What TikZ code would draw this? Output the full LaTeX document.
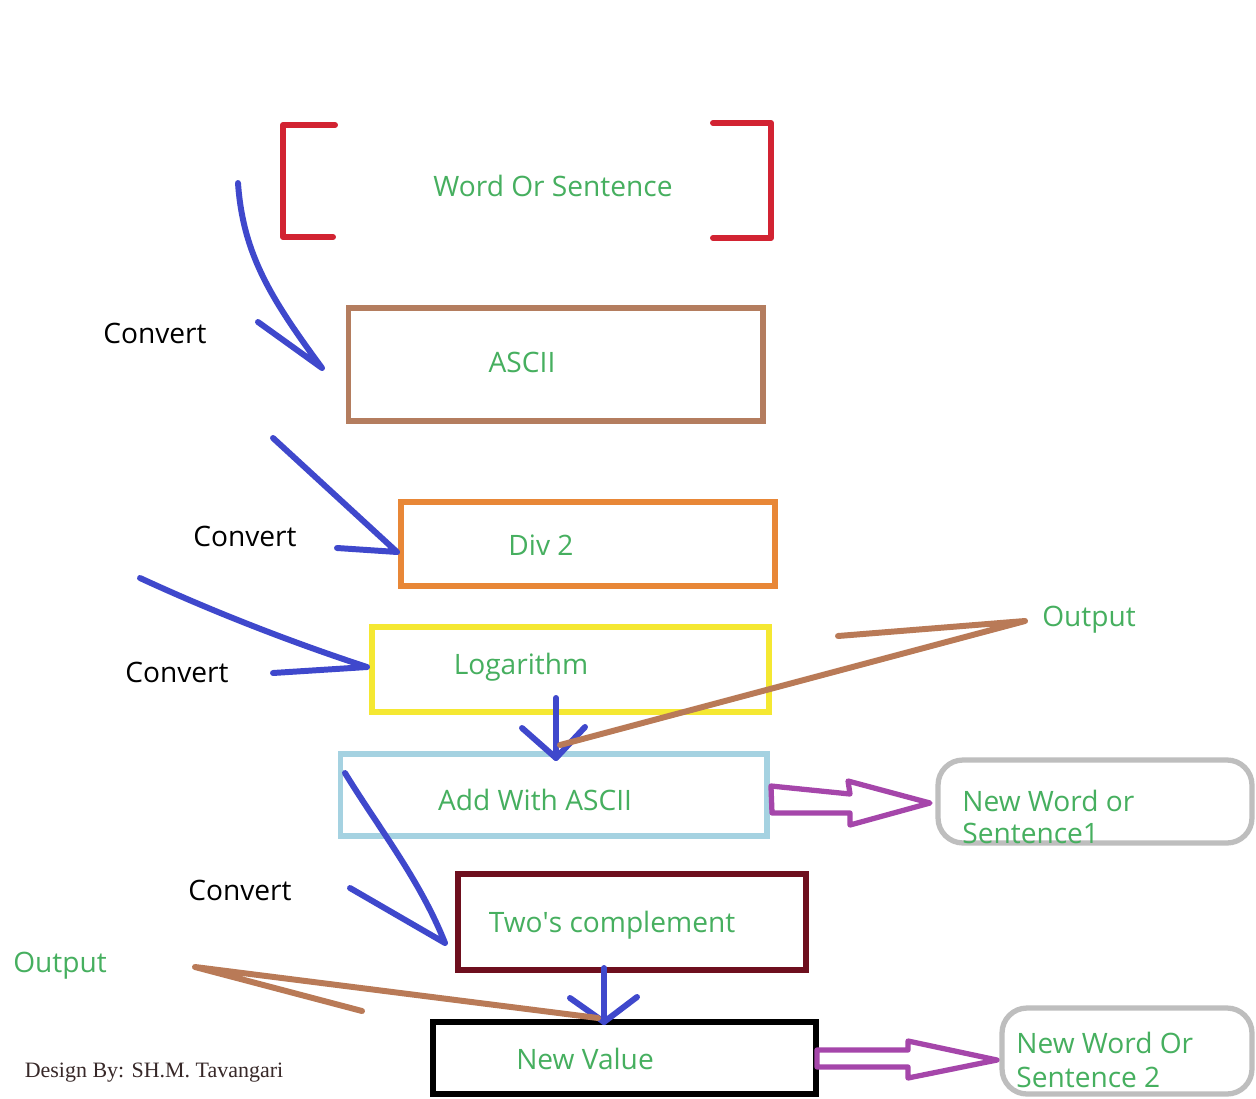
\documentclass[tikz,border=0pt]{standalone}
\usepackage{fontspec}
\setmainfont{Open Sans}
\newfontfamily\sigfont{Liberation Serif}
\definecolor{bracketred}{RGB}{210,35,50}
\definecolor{asciibrown}{RGB}{180,125,95}
\definecolor{divorange}{RGB}{232,135,55}
\definecolor{logyellow}{RGB}{245,232,50}
\definecolor{addblue}{RGB}{165,210,225}
\definecolor{twosred}{RGB}{110,15,30}
\definecolor{txtgreen}{RGB}{70,175,95}
\definecolor{outgray}{RGB}{190,190,190}
\definecolor{arrpurple}{RGB}{165,70,170}
\definecolor{penblue}{RGB}{63,72,204}
\definecolor{penbrown}{RGB}{185,122,87}
\begin{document}
\begin{tikzpicture}[x=0.02cm,y=-0.02cm,
  box/.style={draw, line width=2.9pt, inner sep=0pt, outer sep=0pt},
  outbox/.style={draw=outgray, line width=3pt, rounded corners=0.5cm, inner sep=0pt, outer sep=0pt},
  lbl/.style={text=txtgreen, font=\fontsize{16}{19}\selectfont, inner sep=0pt},
  blk/.style={text=black, font=\fontsize{16}{19}\selectfont, inner sep=0pt},
  pen/.style={draw=penblue, line width=3.4pt, line cap=round, line join=round},
  bpen/.style={draw=penbrown, line width=3.4pt, line cap=round, line join=round},
  hollow/.style={draw=arrpurple, line width=3pt, line join=round},
  brk/.style={draw=bracketred, line width=3.4pt, line cap=round, line join=round}
]
\useasboundingbox[fill=white] (0,0) rectangle (1256,1098);

% Boxes
\node[box, draw=asciibrown, minimum width=8.30cm, minimum height=2.26cm] (ascii) at (555.5,364.5) {};
\node[box, draw=divorange, minimum width=7.48cm, minimum height=1.68cm] (div) at (588,544) {};
\node[box, draw=logyellow, minimum width=7.94cm, minimum height=1.70cm, line width=3.3pt] (log) at (570.5,669.5) {};
\node[box, draw=addblue, minimum width=8.54cm, minimum height=1.64cm] (add) at (553.5,795) {};
\node[box, draw=twosred, minimum width=6.96cm, minimum height=1.92cm] (twos) at (632,922) {};
\node[box, draw=black, minimum width=7.66cm, minimum height=1.44cm, line width=3.3pt] (newval) at (624.5,1058) {};
\node[outbox, minimum width=6.28cm, minimum height=1.66cm] (out1) at (1095,801.5) {};
\node[outbox, minimum width=5.00cm, minimum height=1.72cm] (out2) at (1127,1051) {};

% Brackets
\node[inner sep=0pt, minimum width=9.76cm, minimum height=2.28cm] (wosarea) at (527,181) {};
\draw[brk] (335,125) -- (283,125) -- (283,237) -- (333,237);
\draw[brk] (713,123) -- (771,123) -- (771,238) -- (713,238);

% Texts
\node[lbl] (wos-t) at (553,186) {Word Or Sentence};
\node[lbl] (ascii-t) at (522,362) {ASCII};
\node[lbl] (div-t) at (541,545) {Div 2};
\node[lbl] (log-t) at (521,667) {Logarithm};
\node[lbl] (add-t) at (535,800) {Add With ASCII};
\node[lbl] (twos-t) at (612,925) {Two\textquotesingle s complement};
\node[lbl] (newval-t) at (585,1059) {New Value};
\node[lbl, anchor=west, align=left, font=\fontsize{16}{18.7}\selectfont] (out1-t) at (962,817) {New Word or\\Sentence1};
\node[lbl, anchor=west, align=left, font=\fontsize{16}{19.3}\selectfont] (out2-t) at (1016,1060) {New Word Or\\Sentence 2};
\node[lbl] (outa) at (1089,620) {Output};
\node[lbl] (outb) at (60,966) {Output};
\node[blk] (c1) at (155,333) {Convert};
\node[blk] (c2) at (245,536) {Convert};
\node[blk] (c3) at (177,672) {Convert};
\node[blk] (c4) at (240,890) {Convert};
\node[inner sep=0pt, text={rgb,255:red,55;green,40;blue,40}, font=\sigfont\fontsize{12.5}{15}\selectfont] (sig) at (154,1073) {Design By: SH.M. Tavangari};

% Blue pen arrows
\coordinate (a1s) at (238,183);
\coordinate (a1t) at (322,368);
\coordinate (a1b) at (258,322);
\draw[pen] (a1s) .. controls (243,255) and (272,300) .. (a1t) -- (a1b);

\coordinate (a2s) at (273,438);
\coordinate (a2t) at (397,552);
\coordinate (a2b) at (337,548);
\draw[pen] (a2s) -- (a2t) -- (a2b);

\coordinate (a3s) at (140,578);
\coordinate (a3t) at (367,667);
\coordinate (a3b) at (273,673);
\draw[pen] (a3s) .. controls (220,615) and (300,645) .. (a3t) -- (a3b);

\coordinate (a4s) at (556,698);
\coordinate (a4t) at (556,758);
\draw[pen] (a4s) -- (a4t);
\draw[pen] (522,728) -- (a4t) -- (585,727);

\coordinate (a5s) at (345,773);
\coordinate (a5t) at (445,943);
\coordinate (a5b) at (350,888);
\draw[pen] (a5s) .. controls (380,830) and (420,880) .. (a5t) -- (a5b);

\coordinate (a6s) at (604,968);
\coordinate (a6t) at (604,1022);
\draw[pen] (a6s) -- (a6t);
\draw[pen] (570,998) -- (a6t) -- (637,997);

% Brown output arrows
\coordinate (o1s) at (560,745);
\coordinate (o1t) at (1025,621);
\coordinate (o1b) at (838,636);
\draw[bpen] (o1s) -- (o1t) -- (o1b);

\coordinate (o2s) at (598,1018);
\coordinate (o2t) at (195,967);
\coordinate (o2b) at (362,1011);
\draw[bpen] (o2s) -- (o2t) -- (o2b);

% Purple hollow arrows
\draw[hollow] (add.east) ++(4,-9) -- (850,794) -- (848,781) -- (930,803) -- (850,825) -- (850,813) -- (772,813) -- cycle;
\draw[hollow] (newval.east) ++(1,-8) -- (908,1050) -- (908,1041) -- (997,1060) -- (908,1078) -- (908,1067) -- (817,1067) -- cycle;
\end{tikzpicture}
\end{document}
